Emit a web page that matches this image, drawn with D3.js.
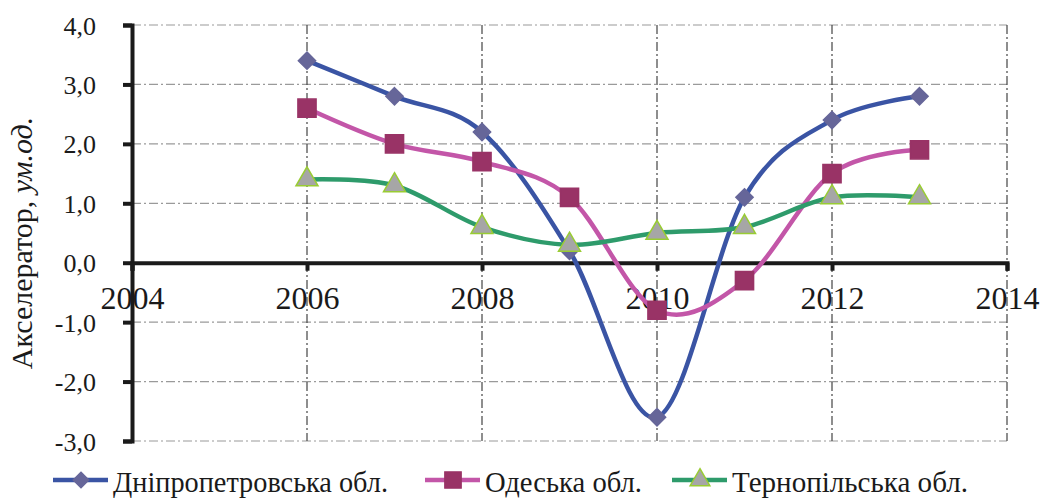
<!DOCTYPE html>
<html>
<head>
<meta charset="utf-8">
<script src="https://cdn.jsdelivr.net/npm/d3@7"></script>
<style>
  body { margin: 0; background: #fff; }
</style>
</head>
<body>
<svg id="chart" width="1045" height="498"></svg>
<script>
// data
const years = [2006, 2007, 2008, 2009, 2010, 2011, 2012, 2013];
const dnipro = [3.4, 2.8, 2.2, 0.2, -2.6, 1.1, 2.4, 2.8];
const odesa = [2.6, 2.0, 1.7, 1.1, -0.8, -0.3, 1.5, 1.9];
const ternopil = [1.4, 1.3, 0.6, 0.3, 0.5, 0.6, 1.1, 1.1];
const seriesNames = ["Дніпропетровська обл.", "Одеська обл.", "Тернопільська обл."];
const xTicks = [2004, 2006, 2008, 2010, 2012, 2014];
const yTicks = [-3, -2, -1, 0, 1, 2, 3, 4];

const serif = '"Liberation Serif"';
const ink = "#1a1a1a";

const svg = d3.select("#chart");
const x = d3.scaleLinear().domain([2004, 2014]).range([132, 1007]);
const y = d3.scaleLinear().domain([-3, 4]).range([441, 25]);
const fmt = d => d.toFixed(1).replace(".", ",");

const series = [
    {name: seriesNames[0], values: dnipro, line: "#3a54a4", fill: "#666699", stroke: "#666699", symbol: d3.symbolDiamond2, size: 190},
    {name: seriesNames[1], values: odesa, line: "#c356a8", fill: "#993366", stroke: "#993366", symbol: d3.symbolSquare, size: 330},
    {name: seriesNames[2], values: ternopil, line: "#2e9b6b", fill: "#a6a6a6", stroke: "#99cc33", symbol: d3.symbolTriangle, size: 210}
];

// grid lines (dash-dot)
const grid = svg.append("g");
grid.selectAll(".hgrid")
    .data(yTicks.filter(d => d != 0))
    .join("line")
    .attr("x1", x(2004)).attr("x2", x(2014))
    .attr("y1", d => y(d)).attr("y2", d => y(d))
    .attr("stroke", "#9a9a9a").attr("stroke-width", 1.2)
    .attr("stroke-dasharray", "9,3,2,3");
grid.selectAll(".vgrid")
    .data(xTicks.filter(d => d != 2004))
    .join("line")
    .attr("x1", d => x(d)).attr("x2", d => x(d))
    .attr("y1", y(4)).attr("y2", y(-3))
    .attr("stroke", "#444").attr("stroke-width", 1.2)
    .attr("stroke-dasharray", "9,3,2,3");

// y axis
const yAxis = svg.append("g")
    .attr("transform", `translate(${x(2004)},0)`)
    .call(d3.axisLeft(y).tickValues(yTicks).tickFormat(fmt).tickSize(9).tickPadding(27));
yAxis.attr("font-family", null);
yAxis.select(".domain").attr("stroke", ink).attr("stroke-width", 4);
yAxis.selectAll(".tick line").attr("stroke", ink).attr("stroke-width", 4);
yAxis.selectAll(".tick text")
    .attr("font-size", 26).attr("fill", ink).attr("dy", "0.35em")
    .style("font-family", serif);

// x axis on the zero line
const xAxis = svg.append("g")
    .attr("transform", `translate(0,${y(0)})`)
    .call(d3.axisBottom(x).tickValues(xTicks).tickFormat(d3.format("d")).tickSize(8).tickPadding(16));
xAxis.attr("font-family", null);
xAxis.select(".domain").attr("stroke", ink).attr("stroke-width", 4);
xAxis.selectAll(".tick line").attr("stroke", ink).attr("stroke-width", 4);
xAxis.selectAll(".tick text")
    .attr("font-size", 32).attr("fill", ink)
    .style("font-family", serif);

// smoothed lines
const line = d3.line()
    .x((d, i) => x(years[i]))
    .y(d => y(d))
    .curve(d3.curveCardinal.tension(0));

series.forEach(s => {
    svg.append("path")
        .datum(s.values)
        .attr("d", line)
        .attr("fill", "none")
        .attr("stroke", s.line)
        .attr("stroke-width", 4.5);
});
series.forEach(s => {
    svg.append("g").selectAll("path")
        .data(s.values)
        .join("path")
        .attr("transform", (d, i) => `translate(${x(years[i])},${y(d)})`)
        .attr("d", d3.symbol().type(s.symbol).size(s.size))
        .attr("fill", s.fill)
        .attr("stroke", s.stroke)
        .attr("stroke-width", 1.5);
});

// y title
const title = svg.append("text")
    .attr("transform", "translate(32,243) rotate(-90)")
    .attr("text-anchor", "middle")
    .attr("font-size", 30)
    .attr("fill", ink)
    .style("font-family", serif);
title.append("tspan").text("Акселератор, ");
title.append("tspan").attr("font-style", "italic").text("ум.од.");

// legend
const legendX = [53, 425, 672];
const legendW = [275, 157, 236];
const legend = svg.append("g");
series.forEach((s, i) => {
    const g = legend.append("g").attr("transform", `translate(${legendX[i]},480)`);
    g.append("line").attr("x1", 0).attr("x2", 55).attr("y1", 0).attr("y2", 0)
        .attr("stroke", s.line).attr("stroke-width", 4.5);
    g.append("path")
        .attr("transform", "translate(28,0)")
        .attr("d", d3.symbol().type(s.symbol).size(s.size * 0.8))
        .attr("fill", s.fill).attr("stroke", s.stroke).attr("stroke-width", 1.5);
    g.append("text")
        .attr("x", 60).attr("y", 12)
        .attr("font-size", 30)
        .attr("fill", ink)
        .attr("textLength", legendW[i])
        .attr("lengthAdjust", "spacingAndGlyphs")
        .style("font-family", serif)
        .text(s.name);
});
</script>
</body>
</html>
